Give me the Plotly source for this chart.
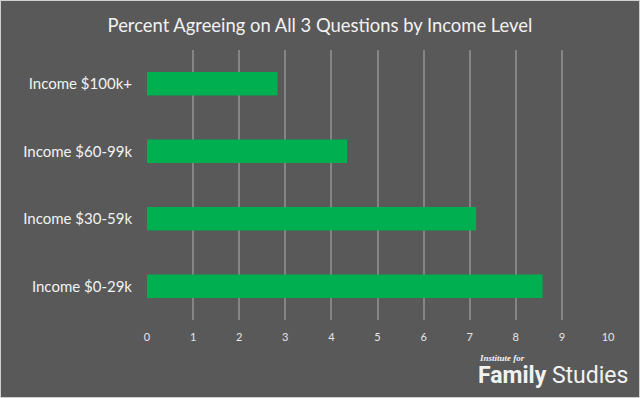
import plotly.graph_objects as go

categories = ["Income $0-29k", "Income $30-59k", "Income $60-99k", "Income $100k+"]
values = [8.58, 7.14, 4.34, 2.83]
tick_vals = list(range(0, 11))

BG = "#595959"
FONT = "Lato, 'Open Sans', sans-serif"

fig = go.Figure()
fig.add_trace(go.Bar(
    x=values, y=categories, orientation="h",
    marker=dict(color="#00B050", line=dict(width=0)),
    width=0.35, hoverinfo="skip",
))

fig.update_layout(
    width=640, height=398,
    paper_bgcolor=BG, plot_bgcolor=BG,
    margin=dict(l=147, r=32, t=50, b=78),
    showlegend=False,
    title=dict(text="Percent Agreeing on All 3 Questions by Income Level",
               x=0.5, xanchor="center", y=0.935, yanchor="middle",
               font=dict(family=FONT, size=18.4, color="#f2f2f2")),
    xaxis=dict(range=[0, 10], tickvals=tick_vals, showgrid=True,
               gridcolor="#858585", gridwidth=2, zeroline=False,
               showline=False, ticks="", fixedrange=True,
               ticklabelstandoff=9,
               tickfont=dict(family=FONT, size=11, color="#e6e6e6")),
    yaxis=dict(categoryorder="array", categoryarray=categories,
               range=[-0.5, 3.5], showgrid=False, zeroline=False,
               ticks="", ticklabelstandoff=14, fixedrange=True,
               tickfont=dict(family=FONT, size=15, color="#f2f2f2")),
    shapes=[dict(type="rect", xref="paper", yref="paper",
                 x0=-147/461, x1=1+32/461, y0=-78/270, y1=1+50/270,
                 line=dict(color="#d0d0d0", width=2), fillcolor="rgba(0,0,0,0)")],
    annotations=[
        dict(text="<b><i>Institute for</i></b>", xref="paper", yref="paper",
             x=(477-147)/461, y=(320-358)/270, xanchor="left", yanchor="middle",
             showarrow=False,
             font=dict(family="'Liberation Serif', serif", size=9, color="#f2f2f2")),
        dict(text="<b>Family</b> Studies", xref="paper", yref="paper",
             x=(476-147)/461, y=(320-375)/270, xanchor="left", yanchor="middle",
             showarrow=False,
             font=dict(family="Roboto, sans-serif", size=23, color="#f2f2f2")),
    ],
)

fig.write_html("out.html")
